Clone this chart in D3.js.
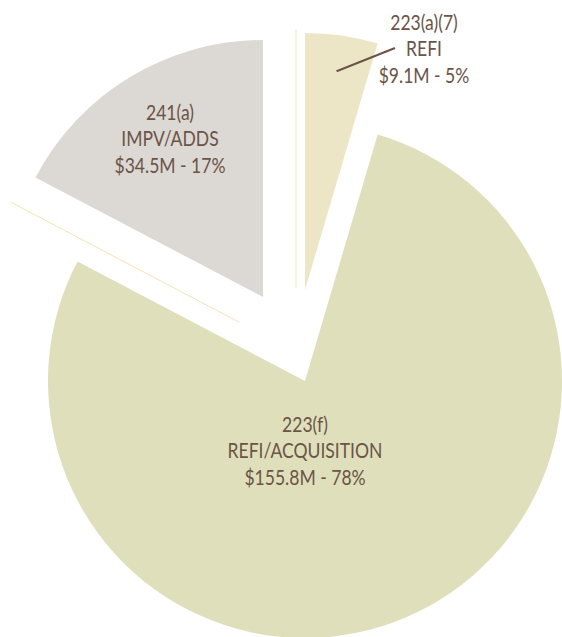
<!DOCTYPE html>
<html>
<head>
<meta charset="utf-8">
<script src="https://cdn.jsdelivr.net/npm/d3@7"></script>
<style>
  body { margin: 0; background: #fff; }
  text { font-family: Lato, "Open Sans", sans-serif; fill: #6b5447; }
</style>
</head>
<body>
<div class="pie"></div>
<script>
// slices, clockwise from 12 o'clock
const codes = ['223(a)(7)', '223(f)', '241(a)'];
const types = ['REFI', 'REFI/ACQUISITION', 'IMPV/ADDS'];
const amounts = [9.1, 155.8, 34.5]; // $M

const colors = ['#ece6c7', '#dfe0bb', '#dcd8d4'];
const centers = [[305, 290], [305, 381], [263, 297]]; // each slice pulled out by hand
const labelPos = [[424, 30], [305, 432], [170, 120]];

const width = 562;
const height = 637;
const radius = 257;
const lineH = 26.5;

const total = d3.sum(amounts);
const pct = amounts.map(v => Math.round(v / total * 100));

const svg = d3.select('.pie')
    .append('svg')
    .attr('width', width)
    .attr('height', height);

const pie = d3.pie().sort(null).value(d => d);
const arcs = pie(amounts);
const arc = d3.arc().innerRadius(0).outerRadius(radius);

// faint guide lines left over behind the slices
const g3 = arcs[2];
[g3.startAngle, g3.endAngle].forEach(a => {
    svg.append('line')
        .attr('x1', 296 + Math.sin(a) * 64)
        .attr('y1', 352 - Math.cos(a) * 64)
        .attr('x2', 296 + Math.sin(a) * 322)
        .attr('y2', 352 - Math.cos(a) * 322)
        .attr('stroke', '#f5e3b3')
        .attr('stroke-width', 1);
});

svg.selectAll('path.slice')
    .data(arcs)
    .enter()
    .append('path')
    .attr('class', 'slice')
    .attr('transform', (d, i) => `translate(${centers[i][0]},${centers[i][1]})`)
    .attr('d', arc)
    .attr('fill', (d, i) => colors[i]);

// leader for the small slice
const small = arcs[0];
const mid = (small.startAngle + small.endAngle) / 2;
svg.append('line')
    .attr('x1', centers[0][0] + Math.sin(mid) * radius * 0.86)
    .attr('y1', centers[0][1] - Math.cos(mid) * radius * 0.86)
    .attr('x2', 395)
    .attr('y2', 48)
    .attr('stroke', '#6b5447')
    .attr('stroke-width', 2);

// the original type is a condensed face, so squeeze horizontally
const probe = svg.append('text').attr('font-size', 20.5).text('REFI/ACQUISITION');
const squeeze = 155 / probe.node().getComputedTextLength();
probe.remove();

const labels = svg.selectAll('g.label')
    .data(arcs)
    .enter()
    .append('g')
    .attr('class', 'label')
    .attr('transform', (d, i) => `translate(${labelPos[i][0]},${labelPos[i][1]}) scale(${squeeze},1)`)
    .append('text')
    .attr('text-anchor', 'middle')
    .attr('font-size', 20.5);

labels.each(function(d, i) {
    const t = d3.select(this);
    const lines = [codes[i], types[i], `$${amounts[i]}M - ${pct[i]}%`];
    lines.forEach((s, j) => {
        t.append('tspan')
            .attr('x', 0)
            .attr('dy', j === 0 ? 0 : lineH)
            .text(s);
    });
});
</script>
</body>
</html>
